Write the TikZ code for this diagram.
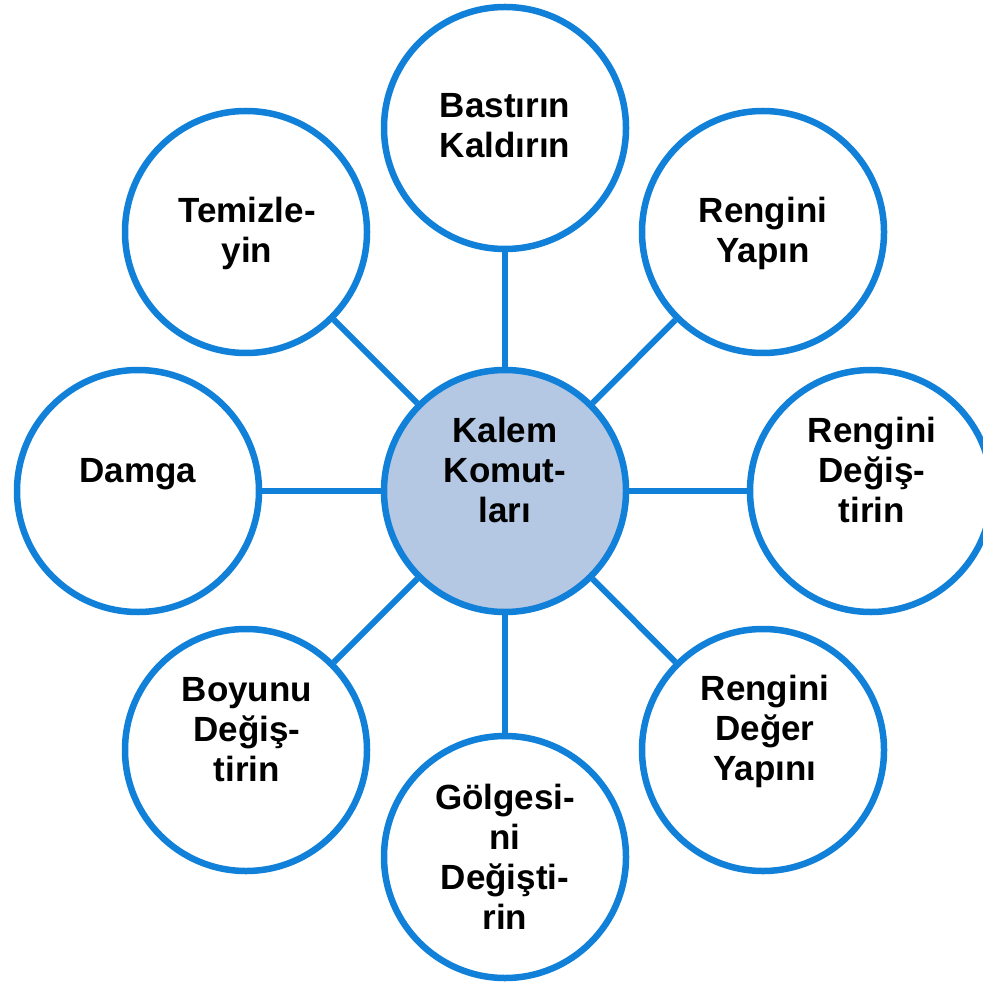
\documentclass[tikz,border=0pt]{standalone}
\usepackage{fontspec}
\setmainfont{Liberation Sans}
\definecolor{ringblue}{HTML}{1080D8}
\definecolor{hubfill}{HTML}{B4C8E4}
\begin{document}
\begin{tikzpicture}[x=0.5pt,y=-0.5pt,
  ring/.style={circle,draw=ringblue,line width=3.25pt,fill=white,minimum size=121pt,inner sep=0pt},
  hub/.style={ring,fill=hubfill},
  lbl/.style={align=center,font=\bfseries\fontsize{17.5}{20}\selectfont,inner sep=0pt},
  link/.style={draw=ringblue,line width=3pt}]
\useasboundingbox (0,0) rectangle (982,983);
\node[hub]  (hub) at (505,491) {};
\node[ring] (n1) at (505,128) {};
\node[ring] (n2) at (763,232) {};
\node[ring] (n3) at (871,491) {};
\node[ring] (n4) at (763,750) {};
\node[ring] (n5) at (505,857) {};
\node[ring] (n6) at (246,750) {};
\node[ring] (n7) at (138,491) {};
\node[ring] (n8) at (246,232) {};
\foreach \n in {n1,n2,n3,n4,n5,n6,n7,n8} \draw[link] (hub) -- (\n);
\node[lbl] (thub) at (505,470) {Kalem\\Komut-\\ları};
\node[lbl] (t1) at (505,126) {Bastırın\\Kaldırın};
\node[lbl] (t2) at (763,233) {Rengini\\Yapın};
\node[lbl] (t3) at (872,470) {Rengini\\Değiş-\\tirin};
\node[lbl] (t4) at (765,731) {Rengini\\Değer\\Yapını};
\node[lbl] (t5) at (505,857) {Gölgesi-\\ni\\Değişti-\\rin};
\node[lbl] (t6) at (247,730) {Boyunu\\Değiş-\\tirin};
\node[lbl] (t7) at (138,474) {Damga};
\node[lbl] (t8) at (247,233) {Temizle-\\yin};
\end{tikzpicture}
\end{document}
